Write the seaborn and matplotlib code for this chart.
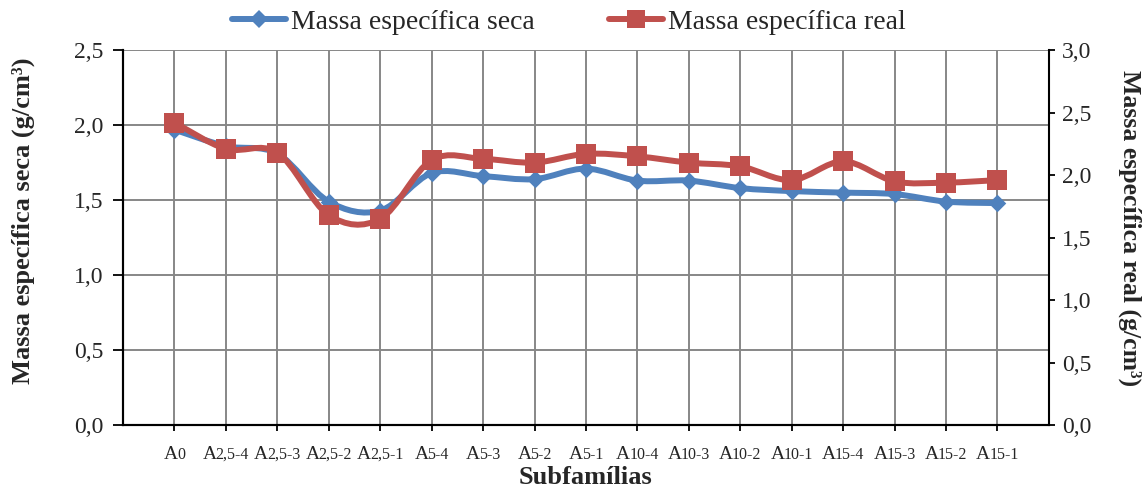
import numpy as np
import pandas as pd
import matplotlib
matplotlib.use("Agg")
import matplotlib.pyplot as plt
import seaborn as sns
from matplotlib.path import Path
from matplotlib.patches import PathPatch
from matplotlib.lines import Line2D
from matplotlib.ticker import MultipleLocator, FuncFormatter

# Subfamily labels: main letter plus the smaller index part
prefixes = ["A"] * 17
suffixes = ["0", "2,5-4", "2,5-3", "2,5-2", "2,5-1", "5-4", "5-3", "5-2", "5-1",
            "10-4", "10-3", "10-2", "10-1", "15-4", "15-3", "15-2", "15-1"]

# Dry and real specific mass (g/cm³)
massa_seca = [1.97, 1.86, 1.81, 1.49, 1.43, 1.68, 1.66, 1.64, 1.71,
              1.63, 1.63, 1.58, 1.56, 1.55, 1.54, 1.49, 1.48]
massa_real = [2.42, 2.21, 2.18, 1.68, 1.65, 2.12, 2.13, 2.10, 2.17,
              2.15, 2.10, 2.07, 1.96, 2.11, 1.95, 1.94, 1.96]

BLUE = "#4F81BD"
RED = "#C0504D"
GRID = "#878787"
LW = 4.3

sns.set_theme(style="white")
plt.rcParams["font.family"] = ["Liberation Serif", "DejaVu Serif"]

df = pd.DataFrame({
    "pos": np.arange(len(suffixes)),
    "seca": massa_seca,
    "real": massa_real,
})


def smooth_path(xs, ys):
    """Cubic Bezier path through the points (Catmull-Rom style smoothing)."""
    pts = np.column_stack([xs, ys]).astype(float)
    n = len(pts)
    verts = [pts[0]]
    codes = [Path.MOVETO]
    for i in range(n - 1):
        p0 = pts[i - 1] if i > 0 else pts[i]
        p1 = pts[i]
        p2 = pts[i + 1]
        p3 = pts[i + 2] if i + 2 < n else pts[i + 1]
        verts += [p1 + (p2 - p0) / 6.0, p2 - (p3 - p1) / 6.0, p2]
        codes += [Path.CURVE4] * 3
    return Path(verts, codes)


fig = plt.figure(figsize=(11.45, 4.87), dpi=100)
ax = fig.add_axes([0.1074, 0.1273, 0.8087, 0.7697])
ax2 = ax.twinx()

# Dry specific mass on the left axis
ax.add_patch(PathPatch(smooth_path(df["pos"], df["seca"]), facecolor="none",
                       edgecolor=BLUE, lw=LW, capstyle="round", joinstyle="round", zorder=3))
sns.scatterplot(data=df, x="pos", y="seca", marker="D", s=80, color=BLUE,
                edgecolor=BLUE, linewidth=0, ax=ax, zorder=4, legend=False)

# Real specific mass on the right axis
ax2.add_patch(PathPatch(smooth_path(df["pos"], df["real"]), facecolor="none",
                        edgecolor=RED, lw=LW, capstyle="round", joinstyle="round", zorder=3))
sns.scatterplot(data=df, x="pos", y="real", marker="s", s=190, color=RED,
                edgecolor=RED, linewidth=0, ax=ax2, zorder=4, legend=False)

comma = FuncFormatter(lambda v, _: f"{v:.1f}".replace(".", ","))

ax.set_xlim(-1, len(suffixes))
ax.set_ylim(0, 2.5)
ax2.set_ylim(0, 3.0)
ax.yaxis.set_major_locator(MultipleLocator(0.5))
ax2.yaxis.set_major_locator(MultipleLocator(0.5))
ax.yaxis.set_major_formatter(comma)
ax2.yaxis.set_major_formatter(comma)
ax.set_xticks(df["pos"])
ax.set_xticklabels([""] * len(suffixes))

ax.grid(True, color=GRID, lw=1.4)
ax.set_axisbelow(True)
ax2.grid(False)

for a in (ax, ax2):
    for sp in a.spines.values():
        sp.set_color("black")
        sp.set_linewidth(1.5)
    a.spines["top"].set_visible(False)
ax.spines["right"].set_visible(False)

ax.tick_params(axis="y", direction="out", length=7, width=1.3,
               color="black", labelsize=17, pad=7, left=True)
ax.tick_params(axis="x", direction="out", length=4, width=1.3,
               color="black", bottom=True)
ax2.tick_params(axis="y", direction="out", length=4.5, width=1.3,
                color="black", labelsize=17, pad=5, right=True)

# Category labels: "A" followed by a smaller index on the same baseline
A_SIZE, SUB_SIZE = 14, 11.5
BASE = -24.5
KERN = 0.8
fig.canvas.draw()
renderer = fig.canvas.get_renderer()
xform = ax.get_xaxis_transform()
for pos, pre, suf in zip(df["pos"], prefixes, suffixes):
    t1 = ax.annotate(pre, xy=(pos, 0), xycoords=xform, xytext=(0, BASE),
                     textcoords="offset points", fontsize=A_SIZE, ha="left", va="baseline")
    t2 = ax.annotate(suf, xy=(pos, 0), xycoords=xform, xytext=(0, BASE),
                     textcoords="offset points", fontsize=SUB_SIZE, ha="left", va="baseline")
    w1 = t1.get_window_extent(renderer).width * 72 / fig.dpi - KERN
    w2 = t2.get_window_extent(renderer).width * 72 / fig.dpi
    start = -(w1 + w2) / 2
    t1.set_position((start, BASE))
    t2.set_position((start + w1, BASE))

ax.set_xlabel("Subfamílias", fontsize=19, fontweight="bold")
ax.xaxis.set_label_coords(0.5, -(484 - 425) / 375)
ax.xaxis.label.set_verticalalignment("baseline")

ax.set_ylabel("Massa específica seca (g/cm³)", fontsize=19, fontweight="bold")
ax.yaxis.set_label_coords((23 - 123) / 926, (425 - 221) / 375)
ax.yaxis.label.set_verticalalignment("center")

ax2.set_ylabel("Massa específica real (g/cm³)", fontsize=18.5, fontweight="bold", rotation=270)
ax2.yaxis.set_label_coords((1130 - 123) / 926, (425 - 228) / 375)
ax2.yaxis.label.set_verticalalignment("center")

handles = [
    Line2D([], [], color=BLUE, lw=LW, marker="D", markersize=9, markeredgewidth=0),
    Line2D([], [], color=RED, lw=LW, marker="s", markersize=13.5, markeredgewidth=0),
]
fig.legend(handles, ["Massa específica seca", "Massa específica real"],
           loc="center", bbox_to_anchor=(569 / 1145, 1 - 22 / 487), ncol=2,
           frameon=False, fontsize=20, handlelength=1.95, handletextpad=0.18,
           columnspacing=2.66, borderaxespad=0)

fig.savefig("out.png", dpi=100)
